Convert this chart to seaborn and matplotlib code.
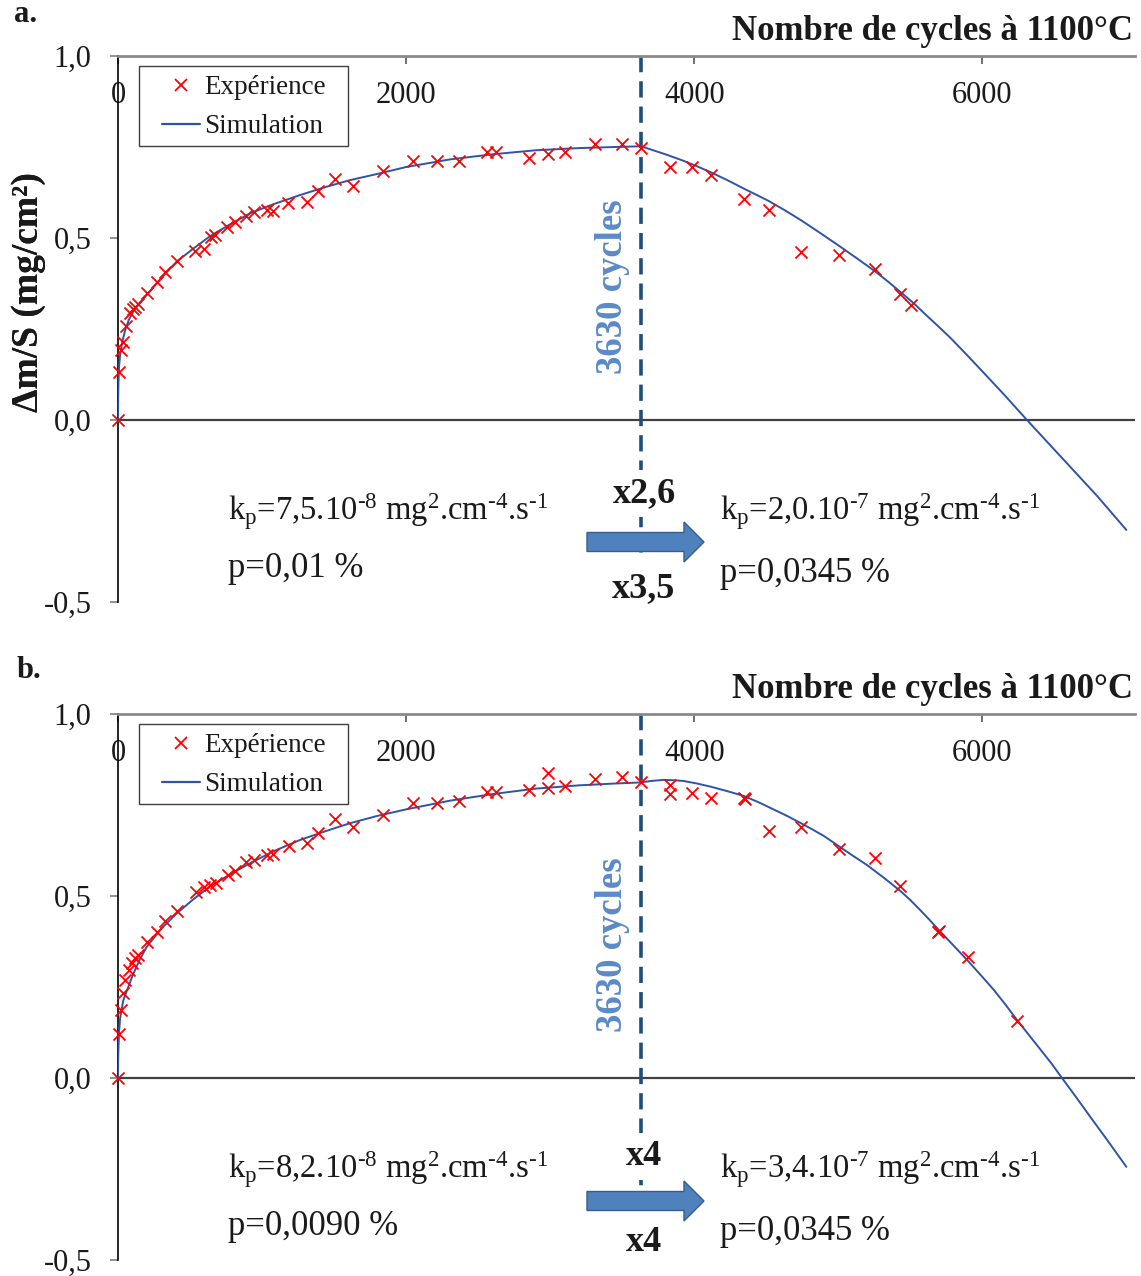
import numpy as np
import pandas as pd
import matplotlib
matplotlib.use("Agg")
import matplotlib.pyplot as plt
import seaborn as sns
from matplotlib.lines import Line2D
from matplotlib.patches import Polygon, Rectangle

# ---------------- data ----------------
exp_a_cycles = [0, 7, 18, 32, 55, 83, 106, 118, 141, 203, 273, 326, 407, 535, 597, 643, 673,
                755, 812, 886, 944, 1032, 1078, 1183, 1310, 1386, 1507, 1634, 1837, 2046, 2217,
                2370, 2565, 2625, 2850, 2984, 3100, 3308, 3498, 3630, 3833, 3986, 4118, 4343,
                4516, 4741, 5007, 5257, 5431, 5505]
exp_a_dm = [0.0, 0.133, 0.192, 0.215, 0.258, 0.293, 0.306, 0.311, 0.320, 0.348, 0.380, 0.406,
            0.437, 0.465, 0.471, 0.504, 0.508, 0.529, 0.545, 0.560, 0.571, 0.577, 0.575, 0.595,
            0.600, 0.630, 0.661, 0.643, 0.685, 0.712, 0.712, 0.712, 0.735, 0.735, 0.721, 0.731,
            0.737, 0.758, 0.758, 0.746, 0.696, 0.694, 0.673, 0.606, 0.577, 0.462, 0.452, 0.414,
            0.346, 0.316]

sim_a_cycles = [0, 1, 3, 8, 15, 30, 50, 75, 106, 150, 199, 300, 407, 520, 639, 780, 917, 1080,
                1264, 1440, 1611, 1800, 2000, 2306, 2600, 2900, 3200, 3450, 3630, 3700, 3800,
                3926, 4020, 4118, 4230, 4343, 4430, 4516, 4630, 4741, 4870, 5007, 5130, 5257,
                5340, 5431, 5520, 5600, 5690, 5778, 5890, 6009, 6160, 6310, 6450, 6588, 6800,
                7000]
sim_a_dm = [0.0, 0.06, 0.10, 0.15, 0.18, 0.215, 0.247, 0.275, 0.298, 0.322, 0.343, 0.390, 0.435,
            0.470, 0.505, 0.538, 0.568, 0.593, 0.618, 0.640, 0.659, 0.676, 0.695, 0.716, 0.730,
            0.741, 0.747, 0.750, 0.752, 0.743, 0.730, 0.712, 0.697, 0.680, 0.659, 0.636, 0.619,
            0.602, 0.576, 0.549, 0.515, 0.478, 0.444, 0.408, 0.382, 0.352, 0.322, 0.292, 0.259,
            0.226, 0.180, 0.130, 0.066, 0.0, -0.060, -0.119, -0.210, -0.302]

exp_b_cycles = [0, 7, 20, 32, 49, 78, 94, 118, 136, 203, 273, 326, 407, 539, 599, 639, 681,
                762, 812, 886, 944, 1032, 1073, 1187, 1310, 1386, 1507, 1634, 1837, 2050, 2217,
                2370, 2565, 2625, 2850, 2984, 2984, 3100, 3308, 3498, 3630, 3833, 3833, 3986,
                4118, 4343, 4350, 4516, 4741, 5007, 5257, 5431, 5690, 5697, 5900, 6240]
exp_b_dm = [0.0, 0.121, 0.187, 0.233, 0.269, 0.297, 0.315, 0.329, 0.338, 0.374, 0.402, 0.432,
            0.460, 0.512, 0.524, 0.530, 0.535, 0.558, 0.570, 0.593, 0.599, 0.613, 0.615, 0.638,
            0.646, 0.674, 0.711, 0.690, 0.723, 0.756, 0.756, 0.762, 0.785, 0.787, 0.790, 0.837,
            0.796, 0.803, 0.821, 0.828, 0.812, 0.805, 0.779, 0.784, 0.768, 0.770, 0.766, 0.679,
            0.690, 0.629, 0.604, 0.527, 0.400, 0.405, 0.332, 0.157]

sim_b_cycles = [0, 1, 3, 8, 15, 37, 60, 100, 150, 199, 300, 407, 520, 639, 780, 917, 1080, 1264,
                1440, 1611, 1800, 2000, 2306, 2600, 2900, 3200, 3450, 3630, 3700, 3787, 3860,
                3926, 4020, 4118, 4230, 4343, 4450, 4550, 4650, 4741, 4820, 4900, 5007, 5100,
                5200, 5320, 5431, 5500, 5560, 5630, 5697, 5800, 5900, 6000, 6080, 6160, 6240,
                6320, 6400, 6480, 6553, 6650, 6750, 6870, 7000]
sim_b_dm = [0.0, 0.05, 0.08, 0.13, 0.165, 0.214, 0.238, 0.280, 0.325, 0.360, 0.410, 0.452, 0.490,
            0.526, 0.560, 0.590, 0.623, 0.654, 0.678, 0.700, 0.720, 0.738, 0.762, 0.780, 0.795,
            0.804, 0.809, 0.812, 0.816, 0.819, 0.818, 0.816, 0.809, 0.800, 0.788, 0.775, 0.757,
            0.738, 0.719, 0.700, 0.683, 0.665, 0.636, 0.611, 0.585, 0.549, 0.514, 0.489, 0.465,
            0.436, 0.407, 0.364, 0.322, 0.278, 0.242, 0.202, 0.160, 0.120, 0.080, 0.040, 0.0,
            -0.052, -0.107, -0.172, -0.244]

transition_cycle = 3630
x_ticks = [0, 2000, 4000, 6000]
y_ticks = [-0.5, 0.0, 0.5, 1.0]
y_tick_labels = ["-0,5", "0,0", "0,5", "1,0"]

HY = "\u2010"
panels = [
    dict(tag="a.", exp=(exp_a_cycles, exp_a_dm), sim=(sim_a_cycles, sim_a_dm),
         kp_left=r"k$_\mathrm{p}$=7,5.10$^{\mathrm{" + HY + r"8}}$ mg$^{2}$.cm$^{\mathrm{" + HY + r"4}}$.s$^{\mathrm{" + HY + r"1}}$",
         p_left="p=0,01 %",
         kp_right=r"k$_\mathrm{p}$=2,0.10$^{\mathrm{" + HY + r"7}}$ mg$^{2}$.cm$^{\mathrm{" + HY + r"4}}$.s$^{\mathrm{" + HY + r"1}}$",
         p_right="p=0,0345 %",
         f_top="x2,6", f_bot="x3,5", ytop=446, ybot=541, arrow=486),
    dict(tag="b.", exp=(exp_b_cycles, exp_b_dm), sim=(sim_b_cycles, sim_b_dm),
         kp_left=r"k$_\mathrm{p}$=8,2.10$^{\mathrm{" + HY + r"8}}$ mg$^{2}$.cm$^{\mathrm{" + HY + r"4}}$.s$^{\mathrm{" + HY + r"1}}$",
         p_left="p=0,0090 %",
         kp_right=r"k$_\mathrm{p}$=3,4.10$^{\mathrm{" + HY + r"7}}$ mg$^{2}$.cm$^{\mathrm{" + HY + r"4}}$.s$^{\mathrm{" + HY + r"1}}$",
         p_right="p=0,0345 %",
         f_top="x4", f_bot="x4", ytop=451, ybot=537, arrow=487),
]

# ---------------- style ----------------
sns.set_theme(style="white")
plt.rcParams["font.family"] = ["Liberation Serif", "DejaVu Serif"]
plt.rcParams["mathtext.fontset"] = "custom"
plt.rcParams["mathtext.rm"] = "Liberation Serif"
plt.rcParams["mathtext.it"] = "Liberation Serif:italic"
plt.rcParams["mathtext.bf"] = "Liberation Serif:bold"

W, H = 1141, 1276
fig = plt.figure(figsize=(W / 100, H / 100), dpi=100)
fig.patch.set_facecolor("white")

RED = "#ff0000"
BLUE = "#2e54a8"
DASH = "#1f4e79"
TXT = "#1a1a1a"
FS = 22

def px(x, y):
    return x / W, 1 - y / H

tops = [56, 714]
for i, (panel, top) in enumerate(zip(panels, tops)):
    bottom = top + 546
    ax = fig.add_axes([118 / W, 1 - bottom / H, (1135 - 118) / W, 546 / H])
    ax.set_facecolor("white")
    ax.set_xlim(0, 7060)
    ax.set_ylim(-0.5, 1.0)

    def ax_xy(x, y):
        return (x - 118) / 1017, (bottom - y) / 546

    # zero line
    ax.axhline(0, color="#404040", lw=1.6, zorder=1)

    # dashed transition line
    ax.plot([transition_cycle, transition_cycle], [1.0, -0.5], color=DASH, lw=2.6,
            dashes=(4.5, 2.5), zorder=2, clip_on=False)

    # simulation + experiment
    sim = pd.DataFrame({"cycles": panel["sim"][0], "dm": panel["sim"][1]})
    sns.lineplot(data=sim, x="cycles", y="dm", color=BLUE, lw=1.4, estimator=None, sort=False,
                 ax=ax, zorder=3)
    exp = pd.DataFrame({"cycles": panel["exp"][0], "dm": panel["exp"][1]})
    sns.scatterplot(data=exp, x="cycles", y="dm", marker="x", color=RED, s=75, linewidth=1.3,
                    ax=ax, zorder=4, clip_on=False)

    # axes styling
    for s in ["right", "bottom"]:
        ax.spines[s].set_visible(False)
    ax.spines["left"].set_color("#000000")
    ax.spines["left"].set_linewidth(1.2)
    ax.spines["top"].set_color("#8a8a8a")
    ax.spines["top"].set_linewidth(2.0)
    ax.set_yticks(y_ticks)
    ax.set_yticklabels(y_tick_labels)
    ax.tick_params(axis="y", direction="out", length=6, width=1.2, color="#7f7f7f",
                   labelsize=FS, pad=13, labelcolor=TXT, left=True)
    ax.set_xticks(x_ticks)
    ax.set_xticklabels([str(v) for v in x_ticks])
    ax.tick_params(axis="x", direction="in", length=6, width=1.2, color="#555555",
                   top=True, bottom=False, labeltop=True, labelbottom=False,
                   labelsize=FS, pad=-39, labelcolor=TXT)
    ax.set_xlabel("")
    ax.set_ylabel("Δm/S (mg/cm²)", fontsize=27, fontweight="bold", color=TXT)
    ax.yaxis.set_label_coords(-0.071, (bottom - 292) / 546)

    # legend: frame drawn explicitly, entries via legend()
    x0, y0 = ax_xy(139, top + 90)
    x1, y1 = ax_xy(348, top + 10)
    ax.add_patch(Rectangle((x0, y0), x1 - x0, y1 - y0, transform=ax.transAxes,
                           facecolor="white", edgecolor="#404040", lw=1.0, zorder=6,
                           clip_on=False))
    handles = [Line2D([], [], marker="x", color=RED, ls="none", ms=8, mew=1.3),
               Line2D([], [], color=BLUE, lw=1.6)]
    leg = ax.legend(handles, ["Expérience", "Simulation"], loc="upper left",
                    bbox_to_anchor=ax_xy(162, top + 19), fontsize=19.5, frameon=False,
                    handlelength=1.4, handletextpad=0.15, borderpad=0, labelspacing=0.52,
                    borderaxespad=0)
    leg.set_zorder(7)
    for t in leg.get_texts():
        t.set_color(TXT)

    # panel tag and x-axis title
    fig.text(*px(14 + 3 * i, 22 + (top - 56) - 2 * i), panel["tag"], fontsize=22,
             fontweight="bold", ha="left", va="baseline", color=TXT)
    fig.text(*px(1133, top - 16), "Nombre de cycles à 1100°C", fontsize=25,
             fontweight="bold", ha="right", va="baseline", color=TXT)

    # rotated "3630 cycles"
    fig.text(*px(613, top + 231), "3630 cycles", rotation=90, fontsize=26.5,
             fontweight="bold", color="#5b8ac8", ha="center", va="center")

    # kinetics annotations (pixel positions relative to panel top)
    def T(x, y, s, fs):
        fig.text(*px(x, top + y), s, fontsize=fs, color=TXT, va="baseline")

    T(228, 464, panel["kp_left"], 23.5)
    T(228, 521, panel["p_left"], 25)
    T(720, 464, panel["kp_right"], 23.5)
    T(720, 526, panel["p_right"], 25)
    fig.text(*px(644, top + panel["ytop"]), panel["f_top"], fontsize=26, fontweight="bold",
             ha="center", va="baseline", color=TXT,
             bbox=dict(facecolor="white", edgecolor="none", pad=5))
    fig.text(*px(644, top + panel["ybot"]), panel["f_bot"], fontsize=26, fontweight="bold",
             ha="center", va="baseline", color=TXT,
             bbox=dict(facecolor="white", edgecolor="none", pad=8))

    # block arrow
    cy = top + panel["arrow"]
    verts = [(587, cy - 9.5), (684, cy - 9.5), (684, cy - 20), (704, cy), (684, cy + 20),
             (684, cy + 9.5), (587, cy + 9.5)]
    verts = [px(x, y) for x, y in verts]
    fig.patches.append(Polygon(verts, closed=True, transform=fig.transFigure,
                               facecolor="#4f81bd", edgecolor="#385d8a", lw=1.0, zorder=10))

fig.savefig("out.png", dpi=100, facecolor="white")
